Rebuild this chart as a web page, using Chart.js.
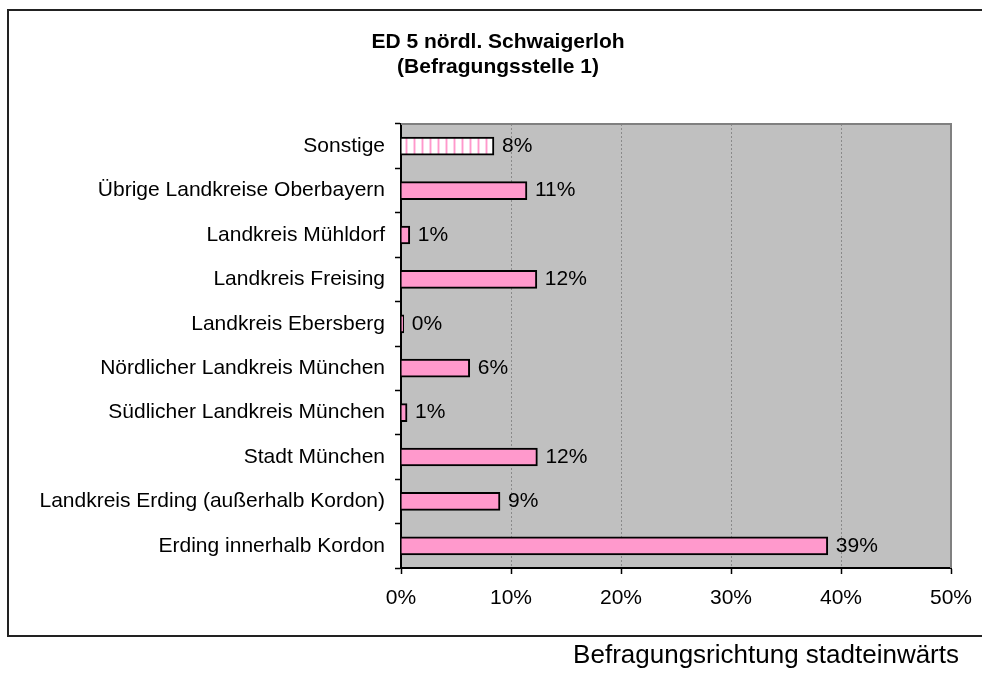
<!DOCTYPE html>
<html><head><meta charset="utf-8">
<script src="https://cdn.jsdelivr.net/npm/chart.js@4.4.1/dist/chart.umd.min.js"></script>
<style>html,body{margin:0;padding:0;background:#fff;overflow:hidden}canvas{display:block}</style>
</head><body>
<canvas id="c" width="982" height="677"></canvas>
<script>
const titleLines = ['ED 5 nördl. Schwaigerloh', '(Befragungsstelle 1)'];
const footerText = 'Befragungsrichtung stadteinwärts';
const categories = ['Sonstige', 'Übrige Landkreise Oberbayern', 'Landkreis Mühldorf', 'Landkreis Freising', 'Landkreis Ebersberg', 'Nördlicher Landkreis München', 'Südlicher Landkreis München', 'Stadt München', 'Landkreis Erding (außerhalb Kordon)', 'Erding innerhalb Kordon'];
const shares = [8.45, 11.45, 0.8, 12.35, 0.25, 6.25, 0.55, 12.4, 9.0, 38.8];
const xTicks = [0, 10, 20, 30, 40, 50];

const FONT = "'Liberation Sans', Arial, sans-serif";
const canvas = document.getElementById('c');
const ctx = canvas.getContext('2d');

// striped pattern for "Sonstige"
const tile = document.createElement('canvas'); tile.width = 8; tile.height = 8;
const tctx = tile.getContext('2d');
tctx.fillStyle = '#ffffff'; tctx.fillRect(0, 0, 8, 8);
tctx.fillStyle = '#ffd1e8'; tctx.fillRect(5, 0, 1, 8); tctx.fillRect(7, 0, 1, 8);
tctx.fillStyle = '#ff99cc'; tctx.fillRect(6, 0, 1, 8);
const stripe = ctx.createPattern(tile, 'repeat');
const fills = categories.map((c, i) => i === 0 ? stripe : '#ff99cc');

const framePlugin = {
  id: 'frame',
  beforeDraw(chart) {
    const c = chart.ctx, a = chart.chartArea;
    c.save();
    c.fillStyle = '#ffffff'; c.fillRect(0, 0, chart.width, chart.height);
    c.strokeStyle = '#222'; c.lineWidth = 2;
    c.strokeRect(8, 10, 1000, 626);
    c.fillStyle = '#c0c0c0'; c.fillRect(a.left, a.top, a.right - a.left, a.bottom - a.top);
    c.restore();
  },
  afterDatasetsDraw(chart) {
    const c = chart.ctx, a = chart.chartArea;
    c.save();
    c.strokeStyle = '#808080'; c.lineWidth = 2;
    c.beginPath(); c.moveTo(a.left, a.top); c.lineTo(a.right, a.top); c.lineTo(a.right, a.bottom); c.stroke();
    const meta = chart.getDatasetMeta(0);
    const vals = chart.data.datasets[0].data;
    c.font = '21px ' + FONT; c.fillStyle = '#000'; c.textBaseline = 'middle'; c.textAlign = 'left';
    meta.data.forEach((bar, i) => { c.fillText(Math.round(vals[i]) + '%', bar.x + 8, bar.y); });
    c.restore();
  },
  afterDraw(chart) {
    const c = chart.ctx;
    c.save();
    c.fillStyle = '#000';
    c.font = 'bold 21px ' + FONT; c.textAlign = 'center'; c.textBaseline = 'middle';
    titleLines.forEach((t, i) => c.fillText(t, 498, 42 + i * 25));
    c.font = '26px ' + FONT; c.textAlign = 'right'; c.textBaseline = 'alphabetic';
    c.fillText(footerText, 959, 663);
    c.restore();
  }
};

new Chart(ctx, {
  type: 'bar',
  data: {
    labels: categories,
    datasets: [{ data: shares, backgroundColor: fills, borderColor: '#000', borderWidth: 2, barThickness: 18 }]
  },
  options: {
    responsive: false, animation: false, indexAxis: 'y',
    layout: { padding: { left: 10, right: 31, top: 124, bottom: 59 } },
    plugins: { legend: { display: false }, tooltip: { enabled: false }, title: { display: false } },
    scales: {
      x: {
        min: xTicks[0], max: xTicks[xTicks.length - 1],
        ticks: { stepSize: xTicks[1] - xTicks[0], callback: v => v + '%', color: '#000', font: { family: FONT, size: 21, lineHeight: 1.5 }, padding: 8, maxRotation: 0 },
        grid: { color: c => (c.tick && (c.tick.value === xTicks[0] || c.tick.value === xTicks[xTicks.length - 1])) ? 'rgba(0,0,0,0)' : '#8a8a8a', lineWidth: 1, tickColor: '#000', tickLength: 6, tickWidth: 1.5 },
        border: { color: '#000', width: 2, dash: [2, 2] },
        afterFit: s => { s.height = 50; }
      },
      y: {
        z: 1,
        ticks: { color: '#000', font: { family: FONT, size: 21 }, padding: 10 },
        grid: { drawOnChartArea: false, tickColor: '#000', tickLength: 6, tickWidth: 1.5, offset: true },
        border: { color: '#000', width: 2 },
        afterFit: s => { s.width = 391; }
      }
    }
  },
  plugins: [framePlugin]
});
</script>
</body></html>
